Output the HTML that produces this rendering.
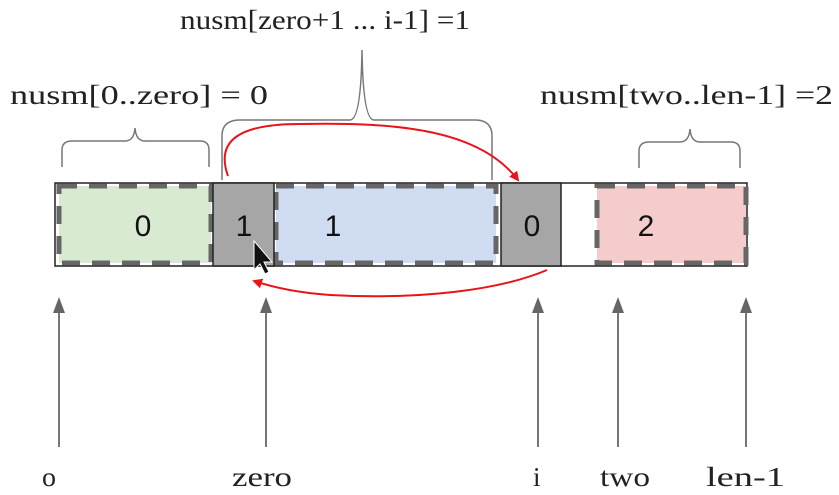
<!DOCTYPE html>
<html><head><meta charset="utf-8"><style>
html,body{margin:0;padding:0;background:#fff;}
svg{display:block;}
text{font-family:"Liberation Serif",serif;fill:#222;}
.num{font-family:"Liberation Sans",sans-serif;font-size:30px;fill:#111;}
</style></head><body>
<svg width="839" height="495" viewBox="0 0 839 495">
<defs>
<marker id="ah" markerWidth="10" markerHeight="10" refX="8" refY="5" orient="auto" markerUnits="userSpaceOnUse"><path d="M0,0 L10,5 L0,10 z" fill="#e8141a"/></marker>
</defs>
<g>
<text x="180" y="29" font-size="27" textLength="290" lengthAdjust="spacingAndGlyphs">nusm[zero+1 ... i-1] =1</text>
<text x="10" y="104" font-size="27" textLength="258" lengthAdjust="spacingAndGlyphs">nusm[0..zero] = 0</text>
<text x="540" y="104" font-size="27" textLength="293" lengthAdjust="spacingAndGlyphs">nusm[two..len-1] =2</text>
</g>
<g fill="none" stroke="#777" stroke-width="1.5">
<path d="M62,167 L62,150 Q62,141 72,141 L125,141 Q134,141 135,128 Q136,141 145,141 L200,141 Q209,141 209,150 L209,167"/>
<path d="M222,180 L222,136 Q222,120 240,120 L350,120 Q361,120 362,50 Q363,120 374,120 L475,120 Q492,120 492,136 L492,180"/>
<path d="M639,168 L639,151 Q639,142 649,142 L680,142 Q689,142 690,129 Q691,142 700,142 L731,142 Q740,142 740,151 L740,168"/>
</g>
<g>
<rect x="55" y="183" width="692" height="83" fill="#fff" stroke="#222" stroke-width="1.5"/>
<rect x="59" y="186" width="152" height="77" fill="#d9ead3" stroke="#666" stroke-width="5" stroke-dasharray="18,12"/>
<rect x="276" y="186" width="220" height="77" fill="#cfdcf2" stroke="#666" stroke-width="5" stroke-dasharray="18,12"/>
<rect x="597" y="186" width="149" height="77" fill="#f4cccc" stroke="#666" stroke-width="5" stroke-dasharray="18,12"/>
<rect x="213" y="183" width="61" height="83" fill="#a6a6a6" stroke="#222" stroke-width="1.5"/>
<rect x="501" y="183" width="60" height="83" fill="#a6a6a6" stroke="#222" stroke-width="1.5"/>
<text class="num" x="143" y="236" text-anchor="middle">0</text>
<text class="num" x="244" y="236" text-anchor="middle">1</text>
<text class="num" x="333" y="236" text-anchor="middle">1</text>
<text class="num" x="532" y="236" text-anchor="middle">0</text>
<text class="num" x="646" y="236" text-anchor="middle">2</text>
<path d="M254,241 L254,270 L260,264 L265,274 L269,272 L264,262 L272,262 z" fill="#111" stroke="#fff" stroke-width="1"/>
</g>
<g fill="none" stroke="#e8141a" stroke-width="2">
<path d="M228,176 C215,140 240,124 300,124 C400,122 480,130 518,180" marker-end="url(#ah)"/>
<path d="M547,270 C500,290 420,300 330,295 C300,293 275,288 254,281" marker-end="url(#ah)"/>
</g>
<g stroke="#777" stroke-width="2" fill="#666">
<line x1="59" y1="310" x2="59" y2="447"/><path d="M53,313 L59,297 L65,313 z" stroke="none"/>
<line x1="266" y1="310" x2="266" y2="447"/><path d="M260,313 L266,297 L272,313 z" stroke="none"/>
<line x1="538" y1="310" x2="538" y2="447"/><path d="M532,313 L538,297 L544,313 z" stroke="none"/>
<line x1="618" y1="310" x2="618" y2="447"/><path d="M612,313 L618,297 L624,313 z" stroke="none"/>
<line x1="746" y1="310" x2="746" y2="447"/><path d="M740,313 L746,297 L752,313 z" stroke="none"/>
</g>
<g font-size="27">
<text x="42" y="486" textLength="14" lengthAdjust="spacingAndGlyphs">o</text>
<text x="232" y="486" textLength="60" lengthAdjust="spacingAndGlyphs">zero</text>
<text x="533" y="486">i</text>
<text x="600" y="486" textLength="50" lengthAdjust="spacingAndGlyphs">two</text>
<text x="706" y="486" textLength="79" lengthAdjust="spacingAndGlyphs">len-1</text>
</g>
</svg>
</body></html>
